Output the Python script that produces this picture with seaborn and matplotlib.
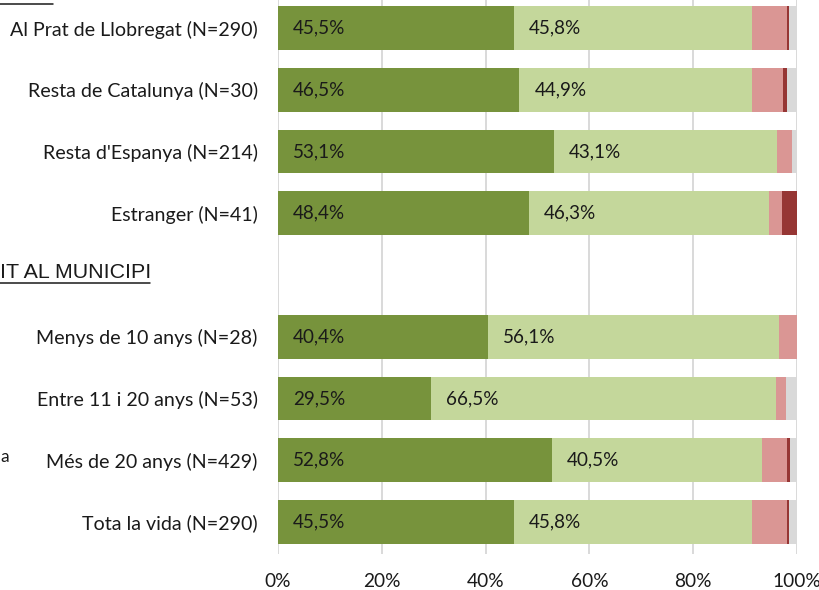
"""
Grafic de barres apilades horitzontals (valoracio per lloc de naixement
i per temps de residencia al municipi).
"""

import numpy as np
import pandas as pd
import matplotlib
matplotlib.use("Agg")
import matplotlib.pyplot as plt
from matplotlib.lines import Line2D
import seaborn as sns

# Dades (percentatges llegits del grafic)
categories = [
    "Al Prat de Llobregat (N=290)",
    "Resta de Catalunya (N=30)",
    "Resta d'Espanya (N=214)",
    "Estranger (N=41)",
    "Menys de 10 anys (N=28)",
    "Entre 11 i 20 anys (N=53)",
    "Més de 20 anys (N=429)",
    "Tota la vida (N=290)",
]
molt = [45.5, 46.5, 53.1, 48.4, 40.4, 29.5, 52.8, 45.5]
bastant = [45.8, 44.9, 43.1, 46.3, 56.1, 66.5, 40.5, 45.8]
poc = [6.8, 5.9, 2.9, 2.4, 3.5, 1.9, 4.8, 6.8]
gens = [0.4, 0.7, 0.0, 2.9, 0.0, 0.0, 0.6, 0.4]
nsnc = [1.5, 2.0, 0.9, 0.0, 0.0, 2.1, 1.3, 1.5]

# ordre de les files, amb una fila buida entre els dos blocs
ordre = categories[:4] + [" "] + categories[4:]
ticks_x = [0, 20, 40, 60, 80, 100]

colors = ["#77933C", "#C4D79B", "#DA9694", "#963634", "#D9D9D9"]
COLOR_TEXT = "#1a1a1a"


def preparar_dades():
    """Construeix la taula amb els valors acumulats de cada segment."""
    df = pd.DataFrame({
        "categoria": categories,
        "molt": molt,
        "bastant": bastant,
        "poc": poc,
        "gens": gens,
        "nsnc": nsnc,
    })
    series = ["molt", "bastant", "poc", "gens", "nsnc"]
    acumulat = df[series].cumsum(axis=1)
    for s in series:
        df["cum_" + s] = acumulat[s]
    return df, series


def generar_grafic(df, series):
    sns.set_style("white")
    plt.rcParams["font.family"] = ["Lato", "DejaVu Sans"]

    fig = plt.figure(figsize=(8.19, 5.90), dpi=100)
    ax = fig.add_axes([278 / 819, 1 - 554 / 590, (797 - 278) / 819, 554 / 590])

    # del segment final cap al primer, perque quedin apilats
    for s, c in reversed(list(zip(series, colors))):
        sns.barplot(
            data=df, x="cum_" + s, y="categoria", order=ordre,
            orient="h", color=c, saturation=1, width=0.71,
            errorbar=None, linewidth=0, ax=ax,
        )

    # etiquetes de valor als dos segments verds
    for i, fila in df.iterrows():
        y = ordre.index(fila["categoria"])
        for inici, valor in [(0, fila["molt"]), (fila["molt"], fila["bastant"])]:
            ax.annotate(
                f"{valor:.1f}".replace(".", ",") + "%",
                (inici, y), xytext=(15, 0), textcoords="offset pixels",
                ha="left", va="center", fontsize=13.6, color=COLOR_TEXT,
            )

    ax.set_xlim(0, 100)
    ax.set_ylim(8.518, -0.453)
    ax.set_xticks(ticks_x)
    ax.set_xticklabels([f"{t}%" for t in ticks_x])
    ax.set_xlabel("")
    ax.set_ylabel("")
    ax.set_axisbelow(True)
    ax.xaxis.grid(True, color="#d9d9d9", linewidth=1.4)
    ax.yaxis.grid(False)
    for sp in ax.spines.values():
        sp.set_visible(False)
    ax.tick_params(axis="x", length=0, pad=14, labelsize=13.8, colors=COLOR_TEXT)
    ax.tick_params(axis="y", length=0, pad=14.5, labelsize=14.1, colors=COLOR_TEXT)

    # capcaleres dels blocs (retallades a l'original)
    fig.text(0, 1 - 272 / 590, "IT AL MUNICIPI", ha="left", va="center",
             fontsize=15.4, family=["Liberation Sans"], color=COLOR_TEXT)
    fig.add_artist(Line2D([0, 150 / 819], [1 - 283 / 590] * 2,
                          color=COLOR_TEXT, linewidth=1.1))
    fig.add_artist(Line2D([0, 53 / 819], [1 - 3.5 / 590] * 2,
                          color=COLOR_TEXT, linewidth=1.1))
    fig.text(0, 1 - 457 / 590, "a", ha="left", va="center",
             fontsize=12.5, color=COLOR_TEXT)

    fig.savefig("out.png", dpi=100)
    plt.close(fig)


def main():
    df, series = preparar_dades()
    generar_grafic(df, series)


if __name__ == "__main__":
    main()
